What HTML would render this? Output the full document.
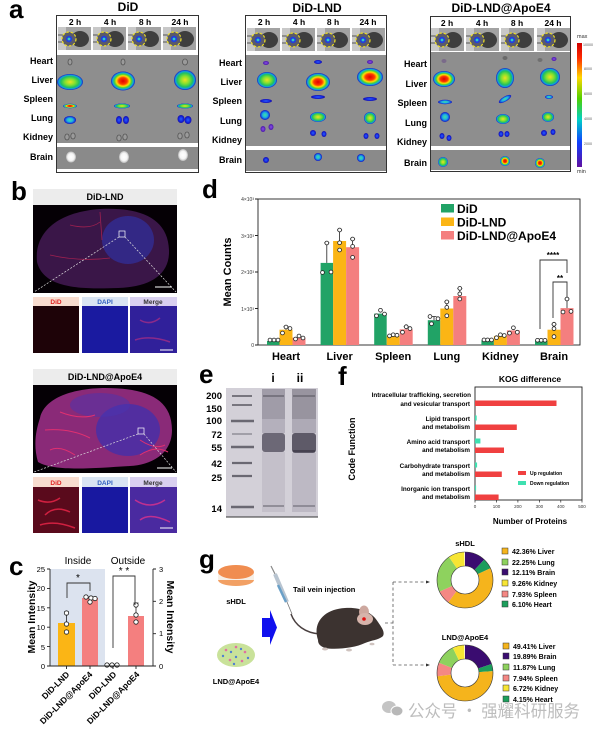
<!DOCTYPE html>
<html><head><meta charset="utf-8"><style>
html,body{margin:0;padding:0;background:#fff;}
svg{display:block;}
text{font-family:"Liberation Sans","Noto Sans CJK SC",sans-serif;}
.b{font-weight:bold;}
</style></head><body>
<svg width="600" height="732" viewBox="0 0 600 732" xmlns="http://www.w3.org/2000/svg">
<defs>
<radialGradient id="hot"><stop offset="0" stop-color="#e00000"/><stop offset="0.35" stop-color="#ff3a00"/><stop offset="0.55" stop-color="#ffe000"/><stop offset="0.72" stop-color="#40d040"/><stop offset="0.86" stop-color="#10a8e0"/><stop offset="1" stop-color="#1a20c0"/></radialGradient>
<radialGradient id="warm"><stop offset="0" stop-color="#f0e020"/><stop offset="0.4" stop-color="#80e030"/><stop offset="0.7" stop-color="#20c060"/><stop offset="0.86" stop-color="#10a0e0"/><stop offset="1" stop-color="#1a20c0"/></radialGradient>
<radialGradient id="cool"><stop offset="0" stop-color="#40e0a0"/><stop offset="0.5" stop-color="#20b0e0"/><stop offset="0.8" stop-color="#1050e0"/><stop offset="1" stop-color="#2010b0"/></radialGradient>
<radialGradient id="blu"><stop offset="0" stop-color="#2a60ff"/><stop offset="0.7" stop-color="#1020d8"/><stop offset="1" stop-color="#2010a0"/></radialGradient>
<radialGradient id="pur"><stop offset="0" stop-color="#8a50e8"/><stop offset="1" stop-color="#4a18a8"/></radialGradient>
<radialGradient id="wht"><stop offset="0" stop-color="#ffffff"/><stop offset="0.65" stop-color="#f4f4f4"/><stop offset="1" stop-color="#b8b8b8"/></radialGradient>
<linearGradient id="cbar" x1="0" y1="0" x2="0" y2="1"><stop offset="0" stop-color="#d00000"/><stop offset="0.12" stop-color="#ff2a00"/><stop offset="0.28" stop-color="#ffd800"/><stop offset="0.45" stop-color="#50d000"/><stop offset="0.62" stop-color="#00d0c8"/><stop offset="0.8" stop-color="#1040ff"/><stop offset="1" stop-color="#6010a0"/></linearGradient>
<g id="thumb">
 <rect width="33" height="23" fill="#a2a2a2"/>
 <rect width="8" height="23" fill="#c8c8c8"/>
 <line x1="0" y1="8" x2="8" y2="8" stroke="#555" stroke-width="1"/>
 <line x1="0" y1="15" x2="8" y2="15" stroke="#555" stroke-width="1"/>
 <ellipse cx="22" cy="12" rx="9" ry="8" fill="#3e3e3e"/>
 <circle cx="11" cy="12" r="7" fill="#5a5a6a" stroke="#f0e020" stroke-width="1.2" stroke-dasharray="2.5 1.8"/>
 <circle cx="11" cy="12" r="3.2" fill="#2040e0"/>
 <circle cx="11" cy="12" r="1.4" fill="#30d0c0"/>
</g>
</defs>

<!-- ================= PANEL A ================= -->
<text x="9" y="18" font-size="26" class="b">a</text>
<text x="128" y="11" font-size="12" class="b" text-anchor="middle">DiD</text>
<text x="317" y="12" font-size="12" class="b" text-anchor="middle">DiD-LND</text>
<text x="501" y="12" font-size="12" class="b" text-anchor="middle">DiD-LND@ApoE4</text>

<!-- DiD box -->
<rect x="56.5" y="15.5" width="142" height="157" fill="#fff" stroke="#333" stroke-width="1"/>
<g font-size="8.5" class="b" text-anchor="middle">
<text x="75" y="25">2 h</text><text x="110" y="25">4 h</text><text x="145" y="25">8 h</text><text x="180" y="25">24 h</text></g>
<use href="#thumb" x="58" y="27"/><use href="#thumb" x="93" y="27"/><use href="#thumb" x="128" y="27"/><use href="#thumb" x="163" y="27"/>
<rect x="57" y="55" width="141" height="88" fill="#8e8e8e"/>
<rect x="57" y="147" width="141" height="22" fill="#8a8a8a"/>
<!-- DiD organs -->
<g fill="#9a9a9a" stroke="#555" stroke-width="0.8">
<ellipse cx="70" cy="62" rx="2" ry="3"/><ellipse cx="123" cy="62" rx="2" ry="3"/><ellipse cx="185" cy="62" rx="2.5" ry="3"/>
<ellipse cx="67" cy="137" rx="2.2" ry="3"/><ellipse cx="73" cy="136" rx="2.2" ry="3"/>
<ellipse cx="119" cy="138" rx="2.2" ry="3"/><ellipse cx="125" cy="137" rx="2.2" ry="3"/>
<ellipse cx="180" cy="136" rx="2.2" ry="3"/><ellipse cx="187" cy="135" rx="2.2" ry="3"/>
</g>
<ellipse cx="70" cy="82" rx="13" ry="8" fill="url(#warm)"/>
<ellipse cx="123" cy="81" rx="12" ry="9.5" fill="url(#hot)"/>
<ellipse cx="185" cy="80" rx="11" ry="10" fill="url(#warm)"/>
<ellipse cx="70" cy="106" rx="7" ry="2.2" fill="url(#hot)"/>
<ellipse cx="122" cy="106" rx="8" ry="2.5" fill="url(#warm)"/>
<ellipse cx="185" cy="106" rx="8" ry="2.5" fill="url(#warm)"/>
<ellipse cx="70" cy="120" rx="6" ry="4" fill="url(#cool)"/>
<ellipse cx="119" cy="120" rx="3" ry="4" fill="url(#blu)"/><ellipse cx="126" cy="120" rx="3" ry="4" fill="url(#blu)"/>
<ellipse cx="181" cy="119" rx="3.5" ry="4" fill="url(#blu)"/><ellipse cx="188" cy="120" rx="3.5" ry="4" fill="url(#blu)"/>
<ellipse cx="71" cy="157" rx="5" ry="5.5" fill="url(#wht)"/>
<ellipse cx="124" cy="157" rx="5" ry="6" fill="url(#wht)"/>
<ellipse cx="183" cy="155" rx="5" ry="6" fill="url(#wht)"/>
<rect x="57" y="143" width="141" height="4" fill="#fff"/>
<g font-size="9" class="b" text-anchor="end">
<text x="53" y="64">Heart</text><text x="53" y="83">Liver</text><text x="53" y="102">Spleen</text><text x="53" y="121">Lung</text><text x="53" y="140">Kidney</text><text x="53" y="160">Brain</text></g>

<!-- DiD-LND box -->
<rect x="245.5" y="15.5" width="141" height="157" fill="#fff" stroke="#333" stroke-width="1"/>
<g font-size="8.5" class="b" text-anchor="middle">
<text x="264" y="25">2 h</text><text x="299" y="25">4 h</text><text x="333" y="25">8 h</text><text x="368" y="25">24 h</text></g>
<use href="#thumb" x="247" y="28"/><use href="#thumb" x="282" y="28"/><use href="#thumb" x="317" y="28"/><use href="#thumb" x="352" y="28"/>
<rect x="246" y="55" width="140" height="91" fill="#8e8e8e"/>
<rect x="246" y="150" width="140" height="21" fill="#8a8a8a"/>
<ellipse cx="266" cy="63" rx="3" ry="2" fill="url(#pur)"/>
<ellipse cx="318" cy="62" rx="4" ry="2" fill="url(#blu)"/>
<ellipse cx="370" cy="62" rx="3" ry="2" fill="url(#pur)"/>
<ellipse cx="267" cy="80" rx="10" ry="8" fill="url(#warm)"/>
<ellipse cx="318" cy="82" rx="12" ry="9" fill="url(#hot)"/>
<ellipse cx="370" cy="77" rx="13" ry="9" fill="url(#hot)"/>
<ellipse cx="266" cy="101" rx="6" ry="2" fill="url(#blu)"/>
<ellipse cx="318" cy="97" rx="7" ry="2" fill="url(#blu)"/>
<ellipse cx="370" cy="99" rx="7" ry="2" fill="url(#blu)"/>
<ellipse cx="265" cy="115" rx="5" ry="5" fill="url(#cool)"/>
<ellipse cx="318" cy="117" rx="8" ry="5" fill="url(#warm)"/>
<ellipse cx="370" cy="118" rx="6" ry="6" fill="url(#warm)"/>
<ellipse cx="263" cy="129" rx="2.5" ry="3" fill="url(#pur)"/><ellipse cx="271" cy="127" rx="2.5" ry="3" fill="url(#pur)"/>
<ellipse cx="313" cy="133" rx="3" ry="3" fill="url(#blu)"/><ellipse cx="324" cy="134" rx="2.5" ry="3" fill="url(#blu)"/>
<ellipse cx="366" cy="136" rx="2.5" ry="3" fill="url(#blu)"/><ellipse cx="377" cy="136" rx="2.5" ry="3" fill="url(#blu)"/>
<circle cx="266" cy="160" r="3" fill="url(#blu)"/>
<circle cx="318" cy="157" r="4" fill="url(#cool)"/>
<circle cx="361" cy="158" r="4" fill="url(#cool)"/>
<rect x="246" y="146" width="140" height="4" fill="#fff"/>
<g font-size="9" class="b" text-anchor="end">
<text x="242" y="66">Heart</text><text x="242" y="85">Liver</text><text x="242" y="104">Spleen</text><text x="242" y="124">Lung</text><text x="242" y="143">Kidney</text><text x="242" y="163">Brain</text></g>

<!-- DiD-LND@ApoE4 box -->
<rect x="430.5" y="16.5" width="140" height="155" fill="#fff" stroke="#333" stroke-width="1"/>
<g font-size="8.5" class="b" text-anchor="middle">
<text x="447" y="26">2 h</text><text x="482" y="26">4 h</text><text x="517" y="26">8 h</text><text x="553" y="26">24 h</text></g>
<use href="#thumb" x="431" y="28"/><use href="#thumb" x="466" y="28"/><use href="#thumb" x="501" y="28"/><use href="#thumb" x="537" y="28"/>
<rect x="431" y="52" width="139" height="94" fill="#8e8e8e"/>
<rect x="431" y="150" width="139" height="20" fill="#8a8a8a"/>
<ellipse cx="444" cy="61" rx="2.5" ry="2" fill="#7a6a8a"/>
<ellipse cx="505" cy="58" rx="2.5" ry="2" fill="#6a6a6a"/>
<ellipse cx="540" cy="60" rx="2.5" ry="2" fill="#707070"/><ellipse cx="554" cy="59" rx="2.5" ry="2" fill="url(#pur)"/>
<ellipse cx="444" cy="79" rx="11" ry="8" fill="url(#hot)"/>
<ellipse cx="505" cy="78" rx="9" ry="10" fill="url(#warm)"/>
<ellipse cx="550" cy="77" rx="10" ry="9" fill="url(#warm)"/>
<ellipse cx="445" cy="102" rx="7" ry="2.2" fill="url(#cool)"/>
<ellipse cx="505" cy="99" rx="7" ry="2.5" fill="url(#cool)" transform="rotate(-30 505 99)"/>
<ellipse cx="549" cy="97" rx="4" ry="2" fill="url(#cool)"/>
<ellipse cx="445" cy="117" rx="5" ry="5" fill="url(#cool)"/>
<ellipse cx="503" cy="119" rx="7" ry="5" fill="url(#warm)"/>
<ellipse cx="548" cy="117" rx="6" ry="5" fill="url(#warm)"/>
<ellipse cx="442" cy="136" rx="2.5" ry="3" fill="url(#blu)"/><ellipse cx="449" cy="138" rx="2.5" ry="3" fill="url(#blu)"/>
<ellipse cx="501" cy="134" rx="2.5" ry="3" fill="url(#blu)"/><ellipse cx="507" cy="134" rx="2.5" ry="3" fill="url(#blu)"/>
<ellipse cx="544" cy="133" rx="3" ry="3" fill="url(#blu)"/><ellipse cx="553" cy="132" rx="2.5" ry="3" fill="url(#blu)"/>
<circle cx="443" cy="162" r="5" fill="url(#warm)"/>
<circle cx="505" cy="161" r="5" fill="url(#hot)"/>
<circle cx="540" cy="163" r="5" fill="url(#hot)"/>
<rect x="431" y="146" width="139" height="4" fill="#fff"/>
<g font-size="9" class="b" text-anchor="end">
<text x="427" y="67">Heart</text><text x="427" y="87">Liver</text><text x="427" y="106">Spleen</text><text x="427" y="126">Lung</text><text x="427" y="145">Kidney</text><text x="427" y="166">Brain</text></g>
<!-- colorbar -->
<rect x="577" y="43" width="5" height="124" fill="url(#cbar)"/>
<text x="577" y="38" font-size="5.5" fill="#333">max</text>
<text x="577" y="173" font-size="5.5" fill="#333">min</text>
<g font-size="3.6" fill="#555"><text x="583" y="46">10000</text><text x="584" y="70">8000</text><text x="584" y="95">6000</text><text x="584" y="120">4000</text><text x="584" y="145">2000</text></g>

<!-- ================= PANEL B ================= -->
<text x="11" y="200" font-size="26" class="b">b</text>
<rect x="33" y="189" width="144" height="16" fill="#ececec"/>
<text x="105" y="200" font-size="9" class="b" text-anchor="middle">DiD-LND</text>
<rect x="33" y="205" width="144" height="88" fill="#050005"/>
<path d="M37 262 C34 232 58 212 100 209 C140 207 168 218 169 250 C170 275 150 287 118 288 C85 289 44 290 37 262 Z" fill="#3a1648"/>
<ellipse cx="128" cy="240" rx="26" ry="24" fill="#3030a0" opacity="0.7"/>
<path d="M70 225 Q90 230 100 222 M50 255 Q80 262 110 258 M100 212 L102 240" stroke="#a02050" stroke-width="0.8" fill="none"/>
<rect x="119" y="231" width="6" height="6" fill="none" stroke="#fff" stroke-width="0.7"/>
<path d="M119 237 L34 292 M125 237 L176 292" stroke="#ddd" stroke-width="0.7" stroke-dasharray="2 1.5"/>
<line x1="155" y1="287" x2="172" y2="287" stroke="#fff" stroke-width="1"/>
<rect x="33" y="297" width="46" height="9" fill="#f8dccf"/><rect x="82" y="297" width="46" height="9" fill="#d9e4f3"/><rect x="130" y="297" width="47" height="9" fill="#d9cff0"/>
<g font-size="6.5" class="b" text-anchor="middle"><text x="56" y="304" fill="#e02020">DiD</text><text x="105" y="304" fill="#3060c0">DAPI</text><text x="153" y="304" fill="#333">Merge</text></g>
<rect x="33" y="306" width="46" height="47" fill="#1e0308"/>
<rect x="82" y="306" width="46" height="47" fill="#1a1aa0"/>
<rect x="130" y="306" width="47" height="47" fill="#30209a"/>
<path d="M140 320 Q150 326 160 318 M135 340 Q150 335 170 342" stroke="#8a2a8a" stroke-width="1.5" fill="none"/>
<line x1="160" y1="350" x2="173" y2="350" stroke="#fff" stroke-width="1"/>

<rect x="33" y="369" width="144" height="16" fill="#ececec"/>
<text x="105" y="380" font-size="9" class="b" text-anchor="middle">DiD-LND@ApoE4</text>
<rect x="33" y="385" width="144" height="88" fill="#050005"/>
<path d="M40 418 C45 395 80 388 105 388 C145 388 172 398 172 430 C172 455 150 465 130 466 C95 468 55 472 38 462 C33 445 36 430 40 418 Z" fill="#8a2a78"/>
<ellipse cx="128" cy="430" rx="32" ry="26" fill="#3a30b0" opacity="0.7"/>
<ellipse cx="100" cy="405" rx="30" ry="12" fill="#4a34b0" opacity="0.5"/>
<path d="M45 430 Q70 428 90 438 M60 412 Q80 420 95 415 M140 440 Q155 450 165 445 M140 455 Q155 445 168 452 M50 450 Q60 445 75 455" stroke="#e03070" stroke-width="1" fill="none"/>
<rect x="138" y="428" width="6" height="6" fill="none" stroke="#fff" stroke-width="0.7"/>
<path d="M138 434 L34 472 M144 434 L176 472" stroke="#ddd" stroke-width="0.7" stroke-dasharray="2 1.5"/>
<line x1="157" y1="468" x2="172" y2="468" stroke="#fff" stroke-width="1"/>
<rect x="33" y="477" width="46" height="10" fill="#f8dccf"/><rect x="82" y="477" width="46" height="10" fill="#d9e4f3"/><rect x="130" y="477" width="47" height="10" fill="#d9cff0"/>
<g font-size="6.5" class="b" text-anchor="middle"><text x="56" y="485" fill="#e02020">DiD</text><text x="105" y="485" fill="#3060c0">DAPI</text><text x="153" y="485" fill="#333">Merge</text></g>
<rect x="33" y="487" width="46" height="46" fill="#5a0a1c"/>
<path d="M38 500 Q50 505 60 498 M45 515 Q55 505 70 512 M40 525 Q55 520 75 528" stroke="#d02040" stroke-width="1.5" fill="none"/>
<rect x="82" y="487" width="46" height="46" fill="#1818a0"/>
<rect x="130" y="487" width="47" height="46" fill="#4a2aa0"/>
<path d="M135 500 Q150 510 165 500 M140 520 Q150 512 170 522" stroke="#c03090" stroke-width="1.5" fill="none"/>
<line x1="160" y1="528" x2="173" y2="528" stroke="#fff" stroke-width="1"/>

<!-- ================= PANEL C ================= -->
<text x="9" y="575" font-size="26" class="b">c</text>
<text x="78" y="564" font-size="10" text-anchor="middle">Inside</text>
<text x="128" y="564" font-size="10" text-anchor="middle">Outside</text>
<rect x="50" y="569" width="55" height="97" fill="#dce3ef"/>
<!-- bars -->
<rect x="58" y="623" width="17" height="43" fill="#fbb515"/>
<rect x="82" y="598" width="16" height="68" fill="#f47f7f"/>
<rect x="128" y="616" width="16" height="50" fill="#f47f7f"/>
<g stroke="#222" stroke-width="0.8">
<line x1="66.5" y1="623" x2="66.5" y2="612"/><line x1="64" y1="612" x2="69" y2="612"/>
<line x1="136" y1="616" x2="136" y2="603"/><line x1="133.5" y1="603" x2="138.5" y2="603"/>
</g>
<g fill="#fff" stroke="#222" stroke-width="0.8">
<circle cx="66.5" cy="613" r="2.2"/><circle cx="66.5" cy="624" r="2.2"/><circle cx="66.5" cy="632" r="2.2"/>
<circle cx="86" cy="597" r="2.2"/><circle cx="91" cy="598" r="2.2"/><circle cx="95" cy="598.5" r="2.2"/><circle cx="90" cy="602" r="2.2"/>
<circle cx="107" cy="665" r="2.2"/><circle cx="112" cy="665" r="2.2"/><circle cx="117" cy="665" r="2.2"/>
<circle cx="136" cy="605" r="2.2"/><circle cx="136" cy="615" r="2.2"/><circle cx="136" cy="622" r="2.2"/>
</g>
<g stroke="#333" stroke-width="0.9" fill="none">
<path d="M67 598 V583 H90 V591"/>
<path d="M113 648 V576 H135 V605"/>
</g>
<text x="78" y="581" font-size="10" text-anchor="middle">*</text>
<text x="124" y="574" font-size="10" text-anchor="middle">* *</text>
<g stroke="#222" stroke-width="0.9" fill="none">
<line x1="50" y1="569" x2="50" y2="666"/><line x1="153" y1="569" x2="153" y2="666"/><line x1="50" y1="666" x2="153" y2="666"/>
<path d="M47 569H50M47 588.4H50M47 607.8H50M47 627.2H50M47 646.6H50M47 666H50"/>
<path d="M153 569H156M153 601.3H156M153 633.7H156M153 666H156"/>
<path d="M66.5 666V669M90 666V669M113 666V669M136 666V669"/>
</g>
<g font-size="7.5" text-anchor="end"><text x="45" y="572">25</text><text x="45" y="591">20</text><text x="45" y="611">15</text><text x="45" y="630">10</text><text x="45" y="650">5</text><text x="45" y="669">0</text></g>
<g font-size="7.5"><text x="159" y="572">3</text><text x="159" y="604">2</text><text x="159" y="636">1</text><text x="159" y="669">0</text></g>
<text transform="translate(35 617) rotate(-90)" font-size="10.5" class="b" text-anchor="middle">Mean Intensity</text>
<text transform="translate(167 617) rotate(90)" font-size="10.5" class="b" text-anchor="middle">Mean Intensity</text>
<g font-size="8.5" class="b" text-anchor="end">
<text transform="translate(70 675) rotate(-45)">DiD-LND</text>
<text transform="translate(93 675) rotate(-45)">DiD-LND@ApoE4</text>
<text transform="translate(117 675) rotate(-45)">DiD-LND</text>
<text transform="translate(140 675) rotate(-45)">DiD-LND@ApoE4</text>
</g>

<!-- ================= PANEL D ================= -->
<text x="202" y="198" font-size="26" class="b">d</text>
<rect x="258" y="199" width="322" height="146" fill="none" stroke="#222" stroke-width="0.9"/>
<g stroke="#222" stroke-width="0.9"><path d="M255 199H258M255 235.5H258M255 272H258M255 308.5H258M255 345H258"/></g>
<g font-size="5" text-anchor="end" fill="#333"><text x="254" y="201">4×10³</text><text x="254" y="238">3×10³</text><text x="254" y="274">2×10³</text><text x="254" y="311">1×10³</text><text x="254" y="347">0</text></g>
<text transform="translate(231 272) rotate(-90)" font-size="11" class="b" text-anchor="middle">Mean Counts</text>
<!-- bars: green #21a366 yellow #fbb515 pink #f47f7f -->
<g>
<rect x="267" y="341" width="12.5" height="4" fill="#21a366"/>
<rect x="279.5" y="329.7" width="13" height="15.3" fill="#fbb515"/>
<rect x="292.5" y="337.7" width="13" height="7.3" fill="#f47f7f"/>
<rect x="320.6" y="262.9" width="12.5" height="82.1" fill="#21a366"/>
<rect x="333.1" y="241" width="13" height="104" fill="#fbb515"/>
<rect x="346.1" y="247.2" width="13" height="97.8" fill="#f47f7f"/>
<rect x="374.2" y="313.6" width="12.5" height="31.4" fill="#21a366"/>
<rect x="386.7" y="335.9" width="13" height="9.1" fill="#fbb515"/>
<rect x="399.7" y="329.3" width="13" height="15.7" fill="#f47f7f"/>
<rect x="427.8" y="320.2" width="12.5" height="24.8" fill="#21a366"/>
<rect x="440.3" y="308.5" width="13" height="36.5" fill="#fbb515"/>
<rect x="453.3" y="296" width="13" height="49" fill="#f47f7f"/>
<rect x="481.4" y="340.3" width="12.5" height="4.7" fill="#21a366"/>
<rect x="493.9" y="335.9" width="13" height="9.1" fill="#fbb515"/>
<rect x="506.9" y="330.4" width="13" height="14.6" fill="#f47f7f"/>
<rect x="535" y="340.6" width="12.5" height="4.4" fill="#21a366"/>
<rect x="547.5" y="329.7" width="13" height="15.3" fill="#fbb515"/>
<rect x="560.5" y="308.1" width="13" height="36.9" fill="#f47f7f"/>
</g>
<g stroke="#222" stroke-width="0.8">
<path d="M326.8 262.9V242.8M324.3 242.8H329.3"/>
<path d="M339.6 241V230M337.1 230H342.1"/>
<path d="M352.6 247.2V239M350.1 239H355.1"/>
<path d="M406.2 329.3V326.7M403.7 326.7H408.7"/>
<path d="M286 329.7V326.7M283.5 326.7H288.5"/>
<path d="M434 320.2V316.5M431.5 316.5H436.5"/>
<path d="M446.8 308.5V301.9M444.3 301.9H449.3"/>
<path d="M459.8 296V288.4M457.3 288.4H462.3"/>
<path d="M554 329.7V324.2M551.5 324.2H556.5"/>
<path d="M567 308.1V299M564.5 299H569.5"/>
</g>
<g fill="#fff" stroke="#222" stroke-width="0.8">
<circle cx="270" cy="340" r="1.9"/><circle cx="274" cy="340" r="1.9"/><circle cx="278" cy="340" r="1.9"/>
<circle cx="282.5" cy="333" r="1.9"/><circle cx="286" cy="327" r="1.9"/><circle cx="290" cy="328.5" r="1.9"/>
<circle cx="295.5" cy="339" r="1.9"/><circle cx="299" cy="336" r="1.9"/><circle cx="303" cy="338" r="1.9"/>
<circle cx="326.8" cy="243" r="1.9"/><circle cx="322.5" cy="272.5" r="1.9"/><circle cx="331" cy="272" r="1.9"/>
<circle cx="339.6" cy="230" r="1.9"/><circle cx="339.6" cy="242.8" r="1.9"/><circle cx="339.6" cy="250" r="1.9"/>
<circle cx="352.6" cy="239" r="1.9"/><circle cx="352.6" cy="246.4" r="1.9"/><circle cx="352.6" cy="257.4" r="1.9"/>
<circle cx="376.5" cy="315.8" r="1.9"/><circle cx="380.5" cy="310.3" r="1.9"/><circle cx="384.5" cy="314" r="1.9"/>
<circle cx="389.5" cy="335.9" r="1.9"/><circle cx="393.2" cy="334.8" r="1.9"/><circle cx="397" cy="335.2" r="1.9"/>
<circle cx="402.5" cy="332.2" r="1.9"/><circle cx="406.2" cy="326.7" r="1.9"/><circle cx="410" cy="328.6" r="1.9"/>
<circle cx="430" cy="316.5" r="1.9"/><circle cx="431.5" cy="323.8" r="1.9"/><circle cx="438" cy="318.7" r="1.9"/>
<circle cx="446.8" cy="301.9" r="1.9"/><circle cx="446.8" cy="307.4" r="1.9"/><circle cx="446.8" cy="315.8" r="1.9"/>
<circle cx="459.8" cy="288.4" r="1.9"/><circle cx="459.8" cy="293.9" r="1.9"/><circle cx="459.8" cy="299" r="1.9"/>
<circle cx="484" cy="339.9" r="1.9"/><circle cx="487.6" cy="339.9" r="1.9"/><circle cx="491.5" cy="339.9" r="1.9"/>
<circle cx="496.5" cy="337.7" r="1.9"/><circle cx="500.4" cy="334.8" r="1.9"/><circle cx="504.3" cy="335.5" r="1.9"/>
<circle cx="509.5" cy="333.1" r="1.9"/><circle cx="513.4" cy="327.8" r="1.9"/><circle cx="517.3" cy="332.2" r="1.9"/>
<circle cx="537.5" cy="340.3" r="1.9"/><circle cx="541.2" cy="340.3" r="1.9"/><circle cx="545" cy="340.3" r="1.9"/>
<circle cx="554" cy="324.2" r="1.9"/><circle cx="554" cy="328.6" r="1.9"/><circle cx="554" cy="336.6" r="1.9"/>
<circle cx="567" cy="299" r="1.9"/><circle cx="563" cy="312" r="1.9"/><circle cx="571" cy="311.4" r="1.9"/>
</g>
<g stroke="#333" stroke-width="0.9" fill="none">
<path d="M540 329 V260 H567 V273"/>
<path d="M553 318 V282 H567 V297"/>
</g>
<text x="553" y="258" font-size="8" class="b" text-anchor="middle">****</text>
<text x="560" y="281" font-size="8" class="b" text-anchor="middle">**</text>
<rect x="441" y="204" width="13" height="8.5" fill="#21a366"/>
<rect x="441" y="217.5" width="13" height="8.5" fill="#fbb515"/>
<rect x="441" y="231" width="13" height="8.5" fill="#f47f7f"/>
<g font-size="12" class="b"><text x="457" y="213">DiD</text><text x="457" y="226.5">DiD-LND</text><text x="457" y="240">DiD-LND@ApoE4</text></g>
<g font-size="11" class="b" text-anchor="middle">
<text x="286" y="360">Heart</text><text x="339.6" y="360">Liver</text><text x="393.2" y="360">Spleen</text><text x="446.8" y="360">Lung</text><text x="500.4" y="360">Kidney</text><text x="554" y="360">Brain</text></g>

<!-- ================= PANEL E ================= -->
<text x="199" y="383" font-size="26" class="b">e</text>
<text x="273" y="382" font-size="12" class="b" text-anchor="middle">i</text>
<text x="300" y="382" font-size="12" class="b" text-anchor="middle">ii</text>
<rect x="226" y="388" width="92" height="129" fill="#d3d0d8"/>
<line x1="226" y1="517" x2="318" y2="517" stroke="#333" stroke-width="1"/>
<g stroke="#6a6872" stroke-width="1.8">
<line x1="232" y1="396" x2="252" y2="396"/><line x1="232" y1="405" x2="252" y2="405"/>
<line x1="231" y1="421" x2="254" y2="421" stroke-width="2.4"/><line x1="232" y1="434" x2="252" y2="434" stroke="#9a98a2"/>
<line x1="231" y1="447" x2="254" y2="447" stroke-width="2.4"/><line x1="232" y1="463" x2="252" y2="463" stroke-width="2.2"/>
<line x1="232" y1="476" x2="252" y2="476" stroke-width="2.2"/><line x1="231" y1="507" x2="254" y2="507" stroke-width="2.4"/>
</g>
<rect x="262" y="389" width="23" height="30" fill="#a09ca8"/>
<rect x="262" y="419" width="23" height="14" fill="#b4b0bc"/>
<rect x="262" y="433" width="23" height="19" rx="3" fill="#6c6876"/>
<rect x="262" y="452" width="23" height="60" fill="#c4c0ca"/>
<line x1="263" y1="396" x2="284" y2="396" stroke="#6a6872" stroke-width="1.5"/>
<line x1="263" y1="506" x2="284" y2="506" stroke="#807e88" stroke-width="1.5"/>
<rect x="292" y="389" width="24" height="30" fill="#98949f"/>
<rect x="292" y="419" width="24" height="14" fill="#aeaab6"/>
<rect x="292" y="433" width="24" height="20" rx="3" fill="#5e5a68"/>
<rect x="292" y="453" width="24" height="59" fill="#bdb9c4"/>
<line x1="293" y1="396" x2="315" y2="396" stroke="#6a6872" stroke-width="1.5"/>
<line x1="293" y1="451" x2="315" y2="451" stroke="#3e3a48" stroke-width="1.5"/>
<line x1="293" y1="506" x2="315" y2="506" stroke="#807e88" stroke-width="1.5"/>
<g font-size="9.5" class="b" text-anchor="end">
<text x="222" y="399">200</text><text x="222" y="412">150</text><text x="222" y="424">100</text><text x="222" y="438">72</text><text x="222" y="451">55</text><text x="222" y="467">42</text><text x="222" y="481">25</text><text x="222" y="512">14</text></g>

<!-- ================= PANEL F ================= -->
<text x="338" y="385" font-size="26" class="b">f</text>
<text x="530" y="382" font-size="8.5" class="b" text-anchor="middle">KOG difference</text>
<rect x="475" y="387" width="107" height="113" fill="none" stroke="#222" stroke-width="0.9"/>
<g fill="#f04040">
<rect x="475" y="400.5" width="81.5" height="5.5"/>
<rect x="475" y="424.5" width="41.8" height="5.5"/>
<rect x="475" y="447.5" width="29" height="5.5"/>
<rect x="475" y="471.5" width="26.8" height="5.5"/>
<rect x="475" y="494.5" width="23.6" height="5.5"/>
</g>
<g fill="#3ee0b0">
<rect x="475" y="415.5" width="1.7" height="5"/>
<rect x="475" y="438.5" width="5.4" height="5"/>
<rect x="475" y="462.5" width="2.1" height="5"/>
<rect x="475" y="485.5" width="1.1" height="5"/>
</g>
<g stroke="#222" stroke-width="0.7"><path d="M475 500V502.5M496.5 500V502.5M517.9 500V502.5M539.4 500V502.5M560.8 500V502.5M582 500V502.5"/></g>
<g font-size="4.5" text-anchor="middle" fill="#333"><text x="475" y="508">0</text><text x="496.5" y="508">100</text><text x="517.9" y="508">200</text><text x="539.4" y="508">300</text><text x="560.8" y="508">400</text><text x="582" y="508">500</text></g>
<text x="530" y="524" font-size="8" class="b" text-anchor="middle">Number of Proteins</text>
<text transform="translate(355 449) rotate(-90)" font-size="9" class="b" text-anchor="middle">Code Function</text>
<g font-size="6.3" class="b" text-anchor="end">
<text x="471" y="397">Intracellular trafficking, secretion</text><text x="470" y="406">and vesicular transport</text>
<text x="470" y="421">Lipid transport</text><text x="470" y="429">and metabolism</text>
<text x="470" y="444">Amino acid transport</text><text x="470" y="452">and metabolism</text>
<text x="470" y="468">Carbohydrate transport</text><text x="470" y="476">and metabolism</text>
<text x="470" y="491">Inorganic ion transport</text><text x="470" y="499">and metabolism</text>
</g>
<rect x="518" y="471" width="8" height="4" fill="#f04040"/>
<rect x="518" y="481" width="8" height="4" fill="#3ee0b0"/>
<g font-size="5" class="b"><text x="530" y="475">Up regulation</text><text x="530" y="485">Down regulation</text></g>

<!-- ================= PANEL G ================= -->
<text x="199" y="568" font-size="26" class="b">g</text>
<!-- sHDL disc -->
<ellipse cx="236" cy="580" rx="18" ry="6" fill="#f2a064"/>
<rect x="218" y="574" width="36" height="6" fill="#f7efe6"/>
<ellipse cx="236" cy="574" rx="18" ry="6" fill="#f7efe6"/>
<ellipse cx="236" cy="572" rx="18" ry="7" fill="#f08d50"/>
<text x="236" y="604" font-size="7.5" class="b" text-anchor="middle">sHDL</text>
<!-- LND disc -->
<ellipse cx="236" cy="655" rx="19" ry="12" fill="#c9e29a"/>
<g fill="#e070a0"><circle cx="226" cy="650" r="1.3"/><circle cx="236" cy="647" r="1.3"/><circle cx="245" cy="652" r="1.3"/><circle cx="230" cy="660" r="1.3"/><circle cx="242" cy="661" r="1.3"/></g>
<g fill="#5080d0"><circle cx="231" cy="652" r="1.2"/><circle cx="241" cy="649" r="1.2"/><circle cx="223" cy="656" r="1.2"/><circle cx="236" cy="657" r="1.2"/><circle cx="248" cy="658" r="1.2"/><circle cx="234" cy="664" r="1.2"/></g>
<text x="236" y="684" font-size="7.5" class="b" text-anchor="middle">LND@ApoE4</text>
<!-- arrow -->
<polygon points="262,618 270,618 270,610 277,627.5 270,645 270,637 262,637" fill="#1010ee"/>
<!-- syringe -->
<line x1="271" y1="566" x2="275" y2="574" stroke="#888" stroke-width="1.2"/>
<line x1="275" y1="574" x2="287" y2="602" stroke="#b8c4d0" stroke-width="4"/>
<line x1="278" y1="585" x2="286" y2="602" stroke="#6aa0c8" stroke-width="2.5"/>
<line x1="287" y1="602" x2="292" y2="614" stroke="#777" stroke-width="0.8"/>
<text x="293" y="592" font-size="7.5" class="b">Tail vein injection</text>
<!-- mouse -->
<path d="M291 614 C295 625 305 633 320 634" stroke="#4a4040" stroke-width="1.5" fill="none"/>
<path d="M318 640 C312 622 325 609 345 608 C360 607 372 612 378 622 C382 628 385 632 383 636 C379 640 372 640 365 643 C355 648 335 650 325 648 C320 646 318 644 318 640 Z" fill="#3c3330"/>
<ellipse cx="364" cy="612" rx="5" ry="6.5" fill="#cda89f"/>
<ellipse cx="365" cy="619" rx="8" ry="6" fill="#d6b4ab"/>
<circle cx="364" cy="619" r="1.8" fill="#e01010"/>
<g fill="#cfc3bf"><ellipse cx="325" cy="649" rx="3" ry="1.5"/><ellipse cx="349" cy="650" rx="3" ry="1.5"/><ellipse cx="372" cy="644" rx="2.5" ry="1.3"/></g>
<!-- dashed connectors -->
<g stroke="#555" stroke-width="0.8" stroke-dasharray="3 2.5" fill="none">
<path d="M385 623 H393"/><path d="M393 582 V665"/><path d="M393 582 H426"/><path d="M393 665 H426"/>
</g>
<polygon points="426,580.5 430,582 426,583.5" fill="#333"/>
<polygon points="426,663.5 430,665 426,666.5" fill="#333"/>
<!-- sHDL donut -->
<text x="465" y="546" font-size="7.5" class="b" text-anchor="middle">sHDL</text>
<g transform="rotate(-90 465 580)" fill="none" stroke-width="14">
<circle cx="465" cy="580" r="21" pathLength="100" stroke="#3a0c70" stroke-dasharray="12.11 200" stroke-dashoffset="0"/>
<circle cx="465" cy="580" r="21" pathLength="100" stroke="#1d9e5c" stroke-dasharray="6.10 200" stroke-dashoffset="-12.11"/>
<circle cx="465" cy="580" r="21" pathLength="100" stroke="#f5b41c" stroke-dasharray="42.36 200" stroke-dashoffset="-18.21"/>
<circle cx="465" cy="580" r="21" pathLength="100" stroke="#f48884" stroke-dasharray="7.93 200" stroke-dashoffset="-60.57"/>
<circle cx="465" cy="580" r="21" pathLength="100" stroke="#8ed25e" stroke-dasharray="22.25 200" stroke-dashoffset="-68.50"/>
<circle cx="465" cy="580" r="21" pathLength="100" stroke="#f7e534" stroke-dasharray="9.26 200" stroke-dashoffset="-90.75"/>
</g>
<circle cx="465" cy="580" r="28" fill="none" stroke="#333" stroke-width="0.6"/>
<circle cx="465" cy="580" r="14" fill="#fff" stroke="#333" stroke-width="0.6"/>
<!-- LND donut -->
<text x="465" y="640" font-size="7.5" class="b" text-anchor="middle">LND@ApoE4</text>
<g transform="rotate(-90 465 673)" fill="none" stroke-width="14">
<circle cx="465" cy="673" r="21" pathLength="100" stroke="#3a0c70" stroke-dasharray="19.89 200" stroke-dashoffset="0"/>
<circle cx="465" cy="673" r="21" pathLength="100" stroke="#1d9e5c" stroke-dasharray="4.15 200" stroke-dashoffset="-19.89"/>
<circle cx="465" cy="673" r="21" pathLength="100" stroke="#f5b41c" stroke-dasharray="49.41 200" stroke-dashoffset="-24.04"/>
<circle cx="465" cy="673" r="21" pathLength="100" stroke="#f48884" stroke-dasharray="7.94 200" stroke-dashoffset="-73.45"/>
<circle cx="465" cy="673" r="21" pathLength="100" stroke="#8ed25e" stroke-dasharray="11.87 200" stroke-dashoffset="-81.39"/>
<circle cx="465" cy="673" r="21" pathLength="100" stroke="#f7e534" stroke-dasharray="6.72 200" stroke-dashoffset="-93.26"/>
</g>
<circle cx="465" cy="673" r="28" fill="none" stroke="#333" stroke-width="0.6"/>
<circle cx="465" cy="673" r="14" fill="#fff" stroke="#333" stroke-width="0.6"/>
<!-- legends -->
<g stroke="#333" stroke-width="0.5">
<rect x="502" y="548" width="6" height="6" fill="#f5b41c"/>
<rect x="502" y="559" width="6" height="6" fill="#8ed25e"/>
<rect x="502" y="569" width="6" height="6" fill="#3a0c70"/>
<rect x="502" y="580" width="6" height="6" fill="#f7e534"/>
<rect x="502" y="591" width="6" height="6" fill="#f48884"/>
<rect x="502" y="601" width="6" height="6" fill="#1d9e5c"/>
<rect x="503" y="643" width="6" height="6" fill="#f5b41c"/>
<rect x="503" y="653" width="6" height="6" fill="#3a0c70"/>
<rect x="503" y="664" width="6" height="6" fill="#8ed25e"/>
<rect x="503" y="675" width="6" height="6" fill="#f48884"/>
<rect x="503" y="685" width="6" height="6" fill="#f7e534"/>
<rect x="503" y="696" width="6" height="6" fill="#1d9e5c"/>
</g>
<g font-size="7" class="b">
<text x="512" y="554">42.36%  Liver</text>
<text x="512" y="565">22.25%  Lung</text>
<text x="512" y="575">12.11%  Brain</text>
<text x="512" y="586">9.26%  Kidney</text>
<text x="512" y="597">7.93%  Spleen</text>
<text x="512" y="607">6.10%  Heart</text>
<text x="513" y="649">49.41%  Liver</text>
<text x="513" y="659">19.89%  Brain</text>
<text x="513" y="670">11.87%  Lung</text>
<text x="513" y="681">7.94%  Spleen</text>
<text x="513" y="691">6.72%  Kidney</text>
<text x="513" y="702">4.15%  Heart</text>
</g>
<!-- watermark -->
<ellipse cx="389" cy="707" rx="7" ry="6" fill="#c4c4c4"/>
<ellipse cx="397" cy="711" rx="6" ry="5" fill="#b8b8b8" stroke="#fff" stroke-width="1"/>
<text x="408" y="717" font-size="17" fill="#bdbdbd" textLength="172" lengthAdjust="spacingAndGlyphs" style='font-family:"Noto Sans CJK SC","WenQuanYi Zen Hei",sans-serif'>公众号 · 强耀科研服务</text>
</svg>
</body></html>
